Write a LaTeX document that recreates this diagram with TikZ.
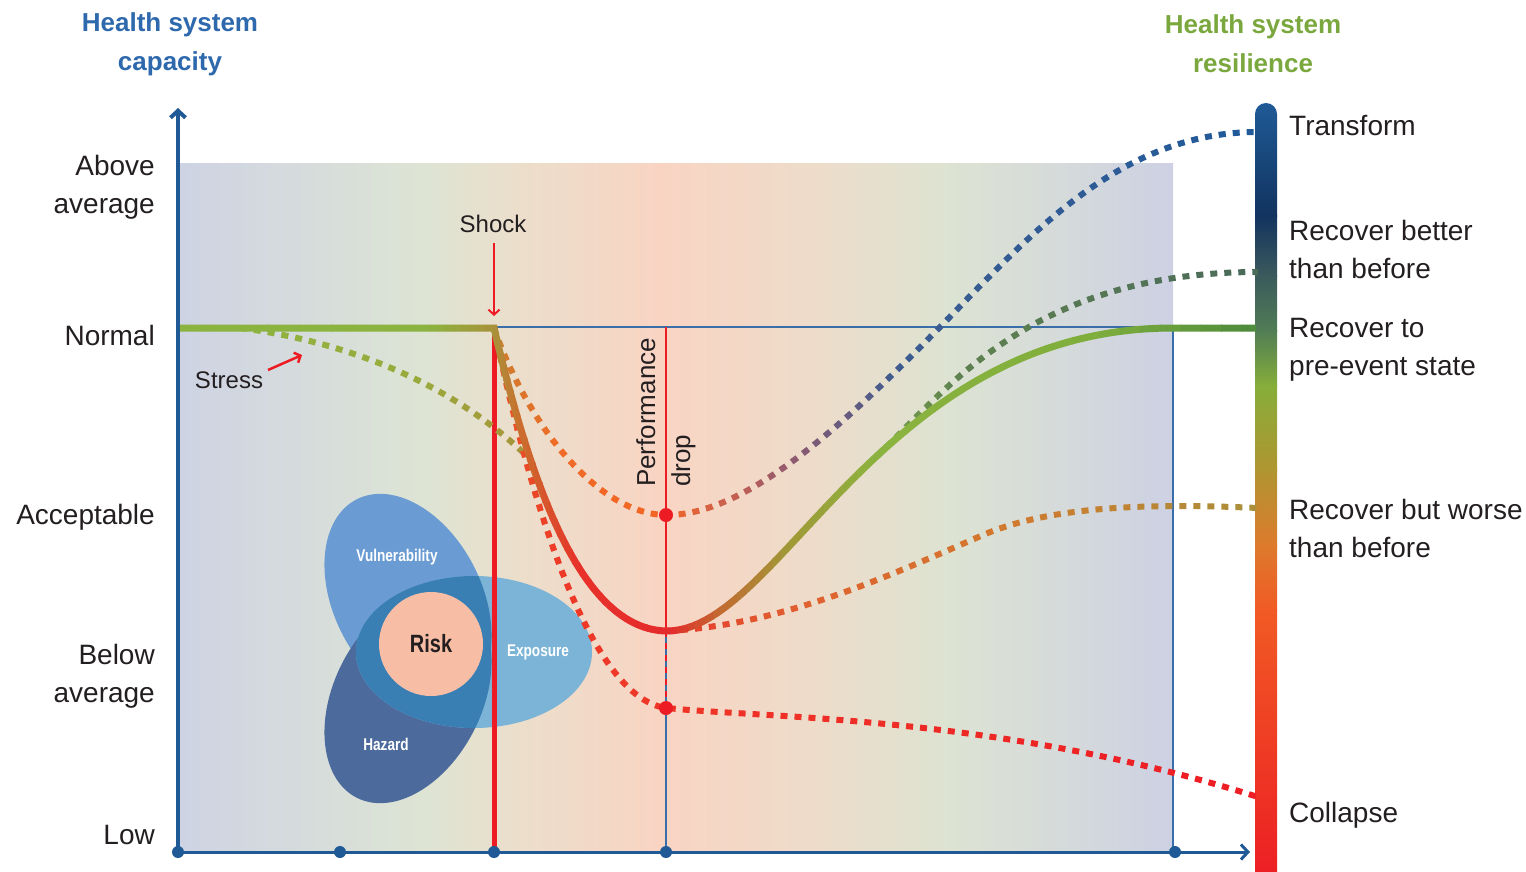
\documentclass[tikz,border=0pt]{standalone}
\usepackage{fontspec}
\setmainfont{Liberation Sans}
\newfontfamily\condf[FakeStretch=0.8]{Liberation Sans}
\usetikzlibrary{arrows.meta}
\definecolor{axisblue}{HTML}{1F5A96}
\definecolor{thinblue}{HTML}{3A6EA8}
\definecolor{redl}{HTML}{ED1C24}
\definecolor{txt}{HTML}{231F20}
\definecolor{titleblue}{HTML}{2E69AD}
\definecolor{titlegreen}{HTML}{7BA83E}
\definecolor{bg1}{HTML}{CED3E3}
\definecolor{bg2}{HTML}{DDE4D4}
\definecolor{bg3}{HTML}{EADFCC}
\definecolor{bg4}{HTML}{F9D4C3}
\definecolor{bg5}{HTML}{EDDCCA}
\definecolor{bg6}{HTML}{DDE3D2}
\definecolor{bg7}{HTML}{CDD1E3}
\definecolor{cb1}{HTML}{1F5B98}
\definecolor{cb2}{HTML}{12335F}
\definecolor{cb3}{HTML}{3B5A5C}
\definecolor{cb4}{HTML}{507D55}
\definecolor{cb5}{HTML}{86AE3A}
\definecolor{cb6}{HTML}{B09530}
\definecolor{cb7}{HTML}{DD7A2C}
\definecolor{cb8}{HTML}{F15A24}
\definecolor{cb9}{HTML}{EC1C24}
\definecolor{vulc}{HTML}{6A9BD2}
\definecolor{hazc}{HTML}{4D6A9D}
\definecolor{expc}{HTML}{7BB4D6}
\definecolor{ovc}{HTML}{3A7FB4}
\definecolor{riskc}{HTML}{F8BEA5}
\definecolor{cG}{HTML}{8BB33F}
\definecolor{cOl}{HTML}{A8923A}
\definecolor{cOr}{HTML}{C9702E}
\definecolor{cR}{HTML}{E8312A}
\definecolor{cR2}{HTML}{E42A2C}
\definecolor{cOl2}{HTML}{C26A30}
\definecolor{cMid}{HTML}{A09A38}
\definecolor{cG2}{HTML}{7FAE3C}
\definecolor{cDG}{HTML}{4A8A3C}
\definecolor{tA}{HTML}{C8802E}
\definecolor{tB}{HTML}{F06A28}
\definecolor{tC}{HTML}{F26522}
\definecolor{tD}{HTML}{D0604A}
\definecolor{tE}{HTML}{8A5A72}
\definecolor{tF}{HTML}{3D5C90}
\definecolor{tG}{HTML}{1F5A9A}
\definecolor{bA}{HTML}{7DA84A}
\definecolor{bB}{HTML}{5E8250}
\definecolor{bC}{HTML}{4A6A5A}
\definecolor{wA}{HTML}{E8382A}
\definecolor{wB}{HTML}{E06030}
\definecolor{wC}{HTML}{D2782E}
\definecolor{wD}{HTML}{A8903C}
\definecolor{kA}{HTML}{E8602A}
\definecolor{kB}{HTML}{EE3A28}
\definecolor{kC}{HTML}{ED1C24}
\definecolor{sA}{HTML}{8DB43F}
\definecolor{sB}{HTML}{9AAA3D}
\definecolor{sC}{HTML}{A8923A}

\def\pMain{(178,328) -- (494,328) .. controls (530,480) and (580,630) .. (667,631) .. controls (780,631) and (880,328) .. (1173,328) -- (1256,328)}
\def\pStress{(240,328) .. controls (320,338) and (440,370) .. (531,460)}
\def\pTrans{(494,328) .. controls (530,430) and (600,515) .. (667,515) .. controls (740,515) and (830,440) .. (940,327) .. controls (1030,235) and (1120,132) .. (1258,132)}
\def\pBetter{(876,457) .. controls (945,392) and (1030,272) .. (1258,272)}
\def\pWorse{(667,631) .. controls (780,625) and (880,580) .. (983,535) .. controls (1050,506) and (1150,503) .. (1258,508)}
\def\pCollapse{(494,328) .. controls (530,500) and (590,700) .. (667,708) .. controls (760,718) and (1000,715) .. (1258,797)}

\newcommand\gseg[6]{%
  \foreach \k in {0,...,7}{%
    \pgfmathsetmacro\xa{#3+(#4-#3)*\k/8}%
    \pgfmathsetmacro\xb{#3+(#4-#3)*(\k+1)/8}%
    \pgfmathtruncatemacro\pc{100-(\k+0.5)*12.5}%
    \begin{scope}
      \clip (\xa-0.3,0) rectangle (\xb+0.3,871);
      \draw[#1,draw=#5!\pc!#6] #2;
    \end{scope}%
  }%
}

\begin{document}
\begin{tikzpicture}[x=1pt,y=-1pt,
  lab/.style={font=\fontsize{28}{38}\selectfont, text=txt, inner sep=0pt},
  ttl/.style={font=\bfseries\fontsize{26}{39}\selectfont, inner sep=0pt, align=center},
  venn/.style={font=\condf\bfseries\fontsize{17}{17}\selectfont, text=white, inner sep=0pt},
  dotline/.style={line width=6pt, dash pattern=on 7pt off 7pt},
  mainline/.style={line width=7pt},
  axisdot/.style={circle, fill=axisblue, minimum size=12pt, inner sep=0pt},
  reddot/.style={circle, fill=redl, minimum size=14pt, inner sep=0pt}]
\useasboundingbox (0,0) rectangle (1526,871);

% background band
\shade[left color=bg1,right color=bg2] (178,163) rectangle (421,852);
\shade[left color=bg2,right color=bg3] (420,163) rectangle (506,852);
\shade[left color=bg3,right color=bg4] (505,163) rectangle (661,852);
\shade[left color=bg4,right color=bg5] (660,163) rectangle (821,852);
\shade[left color=bg5,right color=bg6] (820,163) rectangle (951,852);
\shade[left color=bg6,right color=bg7] (950,163) rectangle (1173,852);

% colour bar
\begin{scope}
\clip[rounded corners=11pt] (1255,103) rectangle (1277,890);
\shade[top color=cb1,bottom color=cb2] (1255,100) rectangle (1277,216);
\shade[top color=cb2,bottom color=cb3] (1255,215) rectangle (1277,276);
\shade[top color=cb3,bottom color=cb4] (1255,275) rectangle (1277,331);
\shade[top color=cb4,bottom color=cb5] (1255,330) rectangle (1277,386);
\shade[top color=cb5,bottom color=cb6] (1255,385) rectangle (1277,471);
\shade[top color=cb6,bottom color=cb7] (1255,470) rectangle (1277,546);
\shade[top color=cb7,bottom color=cb8] (1255,545) rectangle (1277,611);
\shade[top color=cb8,bottom color=cb9] (1255,610) rectangle (1277,890);
\end{scope}

% Venn
\fill[vulc, rotate around={-63:(408,600)}] (408,600) ellipse [x radius=113, y radius=74];
\fill[hazc, rotate around={63:(408,697)}] (408,697) ellipse [x radius=113, y radius=74];
\fill[expc] (474,652) ellipse [x radius=118, y radius=76];
\begin{scope}
\clip (474,652) ellipse [x radius=118, y radius=76];
\fill[ovc, rotate around={-63:(408,600)}] (408,600) ellipse [x radius=113, y radius=74];
\fill[ovc, rotate around={63:(408,697)}] (408,697) ellipse [x radius=113, y radius=74];
\end{scope}
\node[circle, fill=riskc, minimum size=104pt, inner sep=0pt, font=\condf\bfseries\fontsize{25}{25}\selectfont, text=txt] (risk) at (431,644) {Risk};
\node[venn] (vul) at (397,557) {Vulnerability};
\node[venn] (exp) at (538,652) {Exposure};
\node[venn] (haz) at (386,744) {Hazard};

% reference lines
\coordinate (nS) at (494,327);
\coordinate (nE) at (1173,327);
\coordinate (bE) at (1173,852);
\coordinate (pT) at (666,327);
\coordinate (pB) at (666,852);
\coordinate (pM) at (666,631);
\coordinate (sB) at (494,852);
\draw[thinblue, line width=1.6pt] (nS) -- (nE) -- (bE);
\draw[thinblue, line width=1.6pt] (pM) -- (pB);
\draw[redl, line width=5pt] (nS) -- (sB);
\draw[redl, line width=2.5pt] (pT) -- (pM);
\draw[redl, line width=1.6pt, dash pattern=on 6pt off 6pt] (pM) -- (666,705);

% curves
\gseg{dotline}{\pStress}{236}{420}{sA}{sB}
\gseg{dotline}{\pStress}{420}{540}{sB}{sC}
\gseg{dotline}{\pCollapse}{488}{560}{kA}{kB}
\gseg{dotline}{\pCollapse}{560}{1264}{kB}{kC}
\gseg{dotline}{\pTrans}{488}{560}{tA}{tB}
\gseg{dotline}{\pTrans}{560}{667}{tB}{tC}
\gseg{dotline}{\pTrans}{667}{720}{tC}{tD}
\gseg{dotline}{\pTrans}{720}{800}{tD}{tE}
\gseg{dotline}{\pTrans}{800}{900}{tE}{tF}
\gseg{dotline}{\pTrans}{900}{1264}{tF}{tG}
\gseg{dotline}{\pBetter}{870}{960}{bA}{bB}
\gseg{dotline}{\pBetter}{960}{1264}{bB}{bC}
\gseg{dotline}{\pWorse}{662}{800}{wA}{wB}
\gseg{dotline}{\pWorse}{800}{1000}{wB}{wC}
\gseg{dotline}{\pWorse}{1000}{1264}{wC}{wD}
\gseg{mainline}{\pMain}{170}{430}{cG}{cG}
\gseg{mainline}{\pMain}{430}{494}{cG}{cOl}
\gseg{mainline}{\pMain}{494}{520}{cOl}{cOr}
\gseg{mainline}{\pMain}{520}{580}{cOr}{cR}
\gseg{mainline}{\pMain}{580}{670}{cR}{cR2}
\gseg{mainline}{\pMain}{670}{720}{cR2}{cOl2}
\gseg{mainline}{\pMain}{720}{790}{cOl2}{cMid}
\gseg{mainline}{\pMain}{790}{880}{cMid}{cG}
\gseg{mainline}{\pMain}{880}{1100}{cG}{cG2}
\gseg{mainline}{\pMain}{1100}{1262}{cG2}{cDG}

\node[reddot] (drop1) at (666,515) {};
\node[reddot] (drop2) at (666,708) {};

% axes
\coordinate (org) at (178,852);
\coordinate (ytop) at (178,108);
\coordinate (xend) at (1250,852);
\draw[axisblue, line width=4pt, -{Straight Barb[length=7pt,width=15pt]}] (org) -- (ytop);
\draw[axisblue, line width=3pt, -{Straight Barb[length=7pt,width=15pt]}] (org) -- (xend);
\node[axisdot] (t0) at (178,852) {};
\node[axisdot] (t1) at (340,852) {};
\node[axisdot] (t2) at (494,852) {};
\node[axisdot] (t3) at (666,852) {};
\node[axisdot] (t4) at (1175,852) {};

% shock & stress
\node[lab, font=\fontsize{24}{28}\selectfont] (shock) at (493,224) {Shock};
\coordinate (shockA) at (494,243);
\coordinate (shockB) at (494,316);
\draw[redl, line width=2pt, -{Straight Barb[length=5pt,width=11pt]}] (shockA) -- (shockB);
\node[lab, font=\fontsize{24}{28}\selectfont] (stress) at (229,380) {Stress};
\coordinate (stressA) at (268,370);
\coordinate (stressB) at (302,355);
\draw[redl, line width=2.5pt, -{Straight Barb[length=5pt,width=11pt]}] (stressA) -- (stressB);

\node[lab, rotate=90, anchor=west, align=left, font=\fontsize{26}{35}\selectfont] (perf) at (666,487) {Performance\\drop};

% titles
\node[ttl, text=titleblue] (t-cap) at (170,44) {Health system\\capacity};
\node[ttl, text=titlegreen] (t-res) at (1253,44) {Health system\\resilience};

% left axis labels
\node[lab, anchor=east, align=right] (l1) at (155,187) {Above\\average};
\node[lab, anchor=east] (l2) at (155,335) {Normal};
\node[lab, anchor=east] (l3) at (155,517) {Acceptable};
\node[lab, anchor=east, align=right] (l4) at (155,676) {Below\\average};
\node[lab, anchor=east] (l5) at (155,835) {Low};

% right labels
\node[lab, anchor=west] (r1) at (1289,126) {Transform};
\node[lab, anchor=west, align=left] (r2) at (1289,249) {Recover better\\than before};
\node[lab, anchor=west, align=left] (r3) at (1289,350) {Recover to\\pre-event state};
\node[lab, anchor=west, align=left] (r4) at (1289,528) {Recover but worse\\than before};
\node[lab, anchor=west] (r5) at (1289,815) {Collapse};
\end{tikzpicture}
\end{document}
